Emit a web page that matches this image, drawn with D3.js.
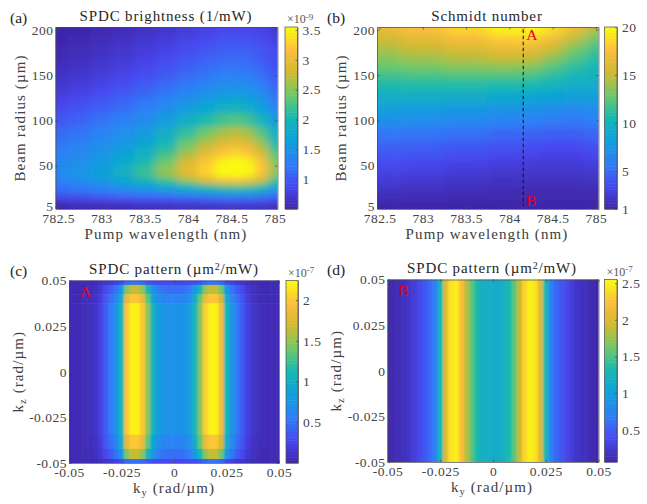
<!DOCTYPE html>
<html>
<head>
<meta charset="utf-8">
<script src="https://cdn.jsdelivr.net/npm/d3@7"></script>
<style>
  body { margin: 0; background: #fff; }
  text { font-family: "Liberation Serif", serif; fill: #3a3a3a; }
  .tick text { font-size: 13.5px; letter-spacing: 0.5px; fill: #444; font-family: "Liberation Serif", serif; }
  .title { font-size: 15px; letter-spacing: 0.85px; fill: #262626; }
  .label { font-size: 15px; letter-spacing: 1.1px; fill: #404040; }
  .panel { font-size: 15.5px; fill: #222; }
  .mult { font-size: 12px; fill: #555; }
  .mark { font-size: 15.5px; fill: #e4002b; }
  .axis path, .axis line { stroke: #4a4a4a; stroke-width: 0.7; }
</style>
</head>
<body>
<div id="chart"></div>
<script>
// parula colormap stops
parulaStops = [0, 0.125, 0.25, 0.375, 0.5, 0.625, 0.75, 0.875, 1]
parulaColors = ["#3e26a8", "#4748f0", "#2f7ef8", "#109fdc", "#14b8b4", "#6cc96a", "#d0ba30", "#fdbd3d", "#f9fb0e"]

// (a) SPDC brightness, x 1e-9 /mW
brightWave = [782.5, 782.75, 783, 783.25, 783.5, 783.75, 784, 784.2, 784.4, 784.55, 784.7, 784.85, 785]
brightRadius = [200, 187, 175, 162, 150, 140, 130, 122, 115, 100, 85, 75, 65, 55, 47, 40, 33, 27, 20, 12, 5]
brightValues = [
  [0.50, 0.52, 0.56, 0.60, 0.65, 0.70, 0.76, 0.82, 0.86, 0.87, 0.87, 0.82, 0.75],
  [0.52, 0.56, 0.60, 0.65, 0.71, 0.77, 0.84, 0.91, 0.95, 0.97, 0.96, 0.90, 0.81],
  [0.55, 0.60, 0.65, 0.70, 0.77, 0.85, 0.93, 1.00, 1.05, 1.07, 1.05, 0.98, 0.88],
  [0.60, 0.65, 0.70, 0.77, 0.84, 0.93, 1.02, 1.10, 1.16, 1.18, 1.16, 1.06, 0.94],
  [0.65, 0.70, 0.76, 0.84, 0.92, 1.02, 1.12, 1.20, 1.28, 1.30, 1.27, 1.15, 1.00],
  [0.70, 0.76, 0.83, 0.92, 1.01, 1.12, 1.23, 1.33, 1.41, 1.45, 1.41, 1.27, 1.08],
  [0.75, 0.82, 0.90, 1.00, 1.10, 1.22, 1.35, 1.47, 1.55, 1.60, 1.55, 1.40, 1.15],
  [0.82, 0.89, 0.98, 1.08, 1.20, 1.33, 1.48, 1.62, 1.72, 1.78, 1.70, 1.53, 1.25],
  [0.88, 0.95, 1.05, 1.15, 1.28, 1.42, 1.60, 1.75, 1.88, 1.95, 1.85, 1.65, 1.35],
  [1.00, 1.08, 1.18, 1.30, 1.42, 1.62, 1.85, 2.05, 2.22, 2.30, 2.20, 1.95, 1.60],
  [1.12, 1.20, 1.32, 1.45, 1.60, 1.85, 2.15, 2.42, 2.62, 2.72, 2.60, 2.30, 1.85],
  [1.20, 1.30, 1.42, 1.55, 1.75, 2.00, 2.38, 2.68, 2.90, 3.00, 2.90, 2.55, 2.05],
  [1.28, 1.38, 1.50, 1.68, 1.88, 2.18, 2.58, 2.92, 3.18, 3.30, 3.18, 2.82, 2.25],
  [1.35, 1.45, 1.58, 1.78, 2.02, 2.38, 2.82, 3.20, 3.45, 3.55, 3.45, 3.10, 2.45],
  [1.40, 1.50, 1.65, 1.85, 2.15, 2.55, 2.95, 3.30, 3.55, 3.55, 3.55, 3.20, 2.55],
  [1.40, 1.52, 1.68, 1.88, 2.18, 2.55, 2.92, 3.25, 3.50, 3.55, 3.45, 3.12, 2.50],
  [1.30, 1.40, 1.55, 1.72, 1.95, 2.20, 2.55, 2.85, 3.10, 3.15, 3.05, 2.75, 2.15],
  [1.20, 1.28, 1.38, 1.52, 1.65, 1.80, 1.98, 2.15, 2.30, 2.35, 2.30, 2.10, 1.80],
  [1.05, 1.10, 1.18, 1.25, 1.32, 1.40, 1.50, 1.58, 1.65, 1.68, 1.65, 1.55, 1.35],
  [0.75, 0.78, 0.82, 0.86, 0.90, 0.93, 0.97, 1.00, 1.03, 1.04, 1.02, 0.98, 0.90],
  [0.52, 0.54, 0.55, 0.56, 0.58, 0.60, 0.62, 0.64, 0.65, 0.65, 0.64, 0.62, 0.60]
]

// (b) Schmidt number
schmidtWave = [782.5, 783, 783.5, 784, 784.25, 784.5, 784.75, 785]
schmidtRadius = [200, 190, 180, 170, 160, 150, 140, 125, 110, 100, 85, 70, 60, 50, 40, 30, 22, 15, 5]
schmidtValues = [
  [16.5, 17.5, 18.5, 19.6, 20, 18.8, 16.8, 14.5],
  [15.3, 16.2, 17.2, 18.2, 18.3, 17, 14.8, 12.8],
  [14.5, 15.2, 16, 16.8, 16.8, 15.3, 13.4, 11.8],
  [13.6, 14.2, 14.8, 15.3, 15.2, 13.8, 12.3, 11],
  [12.8, 13.2, 13.6, 13.8, 13.6, 12.4, 11.3, 10.4],
  [11.8, 12, 12.2, 12.3, 12.1, 11.2, 10.4, 9.9],
  [10.8, 10.9, 10.9, 10.8, 10.6, 10, 9.5, 9.2],
  [9.4, 9.3, 9.2, 8.9, 8.7, 8.3, 8, 8],
  [8, 7.8, 7.5, 7.2, 7, 6.7, 6.5, 6.8],
  [7, 6.8, 6.5, 6.1, 5.9, 5.6, 5.5, 5.9],
  [5.5, 5.4, 5.2, 4.8, 4.6, 4.4, 4.4, 4.8],
  [4.5, 4.4, 4.1, 3.8, 3.6, 3.4, 3.4, 3.8],
  [3.9, 3.8, 3.5, 3.2, 3, 2.9, 2.9, 3.2],
  [3.4, 3.2, 2.9, 2.6, 2.5, 2.4, 2.4, 2.7],
  [2.8, 2.6, 2.4, 2.1, 2, 2, 2, 2.2],
  [2.3, 2.1, 1.9, 1.7, 1.6, 1.6, 1.6, 1.7],
  [1.9, 1.7, 1.6, 1.45, 1.4, 1.4, 1.4, 1.45],
  [1.5, 1.4, 1.3, 1.2, 1.2, 1.2, 1.2, 1.2],
  [1.1, 1.05, 1, 1, 1, 1, 1, 1]
]
pointWave = [784.16, 784.16]
pointRadius = [200, 5]
pointNames = ["A", "B"]

// (c), (d) SPDC pattern, x 1e-7 um^2/mW
patternKy = [-0.05, -0.0475, -0.045, -0.0425, -0.04, -0.0375, -0.035, -0.0325, -0.03, -0.0275, -0.025, -0.0225, -0.02, -0.0175, -0.015, -0.0125, -0.01, -0.0075, -0.005, -0.0025, 0, 0.0025, 0.005, 0.0075, 0.01, 0.0125, 0.015, 0.0175, 0.02, 0.0225, 0.025, 0.0275, 0.03, 0.0325, 0.035, 0.0375, 0.04, 0.0425, 0.045, 0.0475, 0.05]
rowC_mid = [.05, .05, .05, .06, .08, .12, .22, .38, .55, .75, 1.10, 2.00, 2.20, 2.20, 2.00, 1.50, 1.05, .82, .75, .72, .72, .72, .75, .82, 1.10, 1.50, 2.05, 2.20, 2.20, 1.90, 1.10, .75, .55, .38, .22, .12, .08, .06, .05, .05, .05]
rowC_warm = [.05, .05, .05, .06, .07, .11, .20, .34, .48, .65, .98, 1.80, 2.00, 2.00, 1.82, 1.35, .92, .70, .63, .60, .60, .60, .63, .70, .98, 1.38, 1.85, 2.00, 2.00, 1.72, .98, .65, .48, .34, .20, .11, .07, .06, .05, .05, .05]
rowC_dim = [.05, .05, .05, .05, .06, .09, .16, .27, .38, .52, .80, 1.45, 1.65, 1.65, 1.48, 1.10, .75, .56, .50, .47, .47, .47, .50, .56, .80, 1.12, 1.50, 1.65, 1.65, 1.40, .80, .52, .38, .27, .16, .09, .06, .05, .05, .05, .05]
rowC_rim = [.03, .03, .03, .03, .04, .05, .08, .12, .16, .22, .30, .44, .50, .50, .44, .36, .30, .28, .27, .27, .27, .27, .27, .28, .30, .36, .44, .50, .50, .44, .30, .22, .16, .12, .08, .05, .04, .03, .03, .03, .03]
patternCKzEdges = [0.05, 0.0476, 0.0425, 0.0375, -0.0345, -0.0423, -0.0478, -0.05]
patternCRows = [rowC_rim, rowC_dim, rowC_warm, rowC_mid, rowC_warm, rowC_dim, rowC_rim]
patternDRows = [[.08, .10, .12, .15, .20, .26, .35, .45, .55, .70, 1.30, 2.00, 2.42, 2.50, 2.25, 1.85, 1.55, 1.32, 1.20, 1.16, 1.15, 1.16, 1.20, 1.32, 1.55, 1.90, 2.35, 2.50, 2.42, 2.00, 1.30, .72, .55, .45, .35, .26, .20, .15, .12, .10, .08]]
patternDKzEdges = [0.05, -0.05]

// ticks
waveTicks = [782.5, 783, 783.5, 784, 784.5, 785]
waveTickLabels = ["782.5", "783", "783.5", "784", "784.5", "785"]
radiusTicks = [5, 50, 100, 150, 200]
kTicks = [-0.05, -0.025, 0, 0.025, 0.05]
kTickLabels = ["-0.05", "-0.025", "0", "0.025", "0.05"]
cbTicksA = [1, 1.5, 2, 2.5, 3, 3.5]
cbLabelsA = ["1", "1.5", "2", "2.5", "3", "3.5"]
cbTicksB = [1, 5, 10, 15, 20]
cbLabelsB = ["1", "5", "10", "15", "20"]
cbTicksC = [0.5, 1, 1.5, 2]
cbLabelsC = ["0.5", "1", "1.5", "2"]
cbTicksD = [0.5, 1, 1.5, 2, 2.5]
cbLabelsD = ["0.5", "1", "1.5", "2", "2.5"]

var svg = d3.select("#chart").append("svg").attr("width", 647).attr("height", 504)
var defs = svg.append("defs")
var parula = d3.scaleLinear().domain(parulaStops).range(parulaColors).interpolate(d3.interpolateRgb).clamp(true)

function edgesFromCenters(c) {
    var e = [c[0]]
    for (var i = 1; i < c.length; i++) e.push((c[i - 1] + c[i]) / 2)
    e.push(c[c.length - 1])
    return e
}

function cellEdge(edges, i, scale, over) {
    // outermost cells run past the frame so the blur has no pale rim
    var p = scale(edges[i])
    if (i == 0) return p - Math.sign(scale(edges[edges.length - 1]) - p) * over
    if (i == edges.length - 1) return p + Math.sign(p - scale(edges[0])) * over
    return p
}

function drawPanel(p) {
    var x = d3.scaleLinear().domain(p.xDomain).range([p.left, p.right])
    var y = d3.scaleLinear().domain(p.yDomain).range([p.bottom, p.top])
    var norm = d3.scaleLinear().domain(p.cbDomain).range([0, 1])
    var over = 20

    defs.append("clipPath").attr("id", "clip" + p.id).append("rect")
        .attr("x", p.left).attr("y", p.top)
        .attr("width", p.right - p.left).attr("height", p.bottom - p.top)
    defs.append("filter").attr("id", "blur" + p.id)
        .attr("filterUnits", "userSpaceOnUse")
        .attr("x", p.left - 30).attr("y", p.top - 30)
        .attr("width", p.right - p.left + 60).attr("height", p.bottom - p.top + 60)
        .append("feGaussianBlur").attr("stdDeviation", p.blur)

    var heat = svg.append("g").attr("clip-path", "url(#clip" + p.id + ")")
        .append("g").attr("filter", "url(#blur" + p.id + ")")
    p.rows.forEach(function (row, r) {
        row.forEach(function (v, c) {
            var x0 = cellEdge(p.xEdges, c, x, over), x1 = cellEdge(p.xEdges, c + 1, x, over)
            var y0 = cellEdge(p.yEdges, r, y, over), y1 = cellEdge(p.yEdges, r + 1, y, over)
            heat.append("rect")
                .attr("x", x0).attr("y", Math.min(y0, y1))
                .attr("width", x1 - x0 + 0.5).attr("height", Math.abs(y1 - y0) + 0.5)
                .attr("fill", parula(norm(v)))
        })
    })

    // box with inward ticks on all four sides
    svg.append("g").attr("class", "axis").attr("transform", "translate(0," + p.bottom + ")")
        .call(d3.axisBottom(x).tickValues(p.xTicks).tickSizeInner(-2.5).tickSizeOuter(0).tickPadding(4)
            .tickFormat(function (d, i) { return p.xLabels[i] }))
    svg.append("g").attr("class", "axis").attr("transform", "translate(0," + p.top + ")")
        .call(d3.axisTop(x).tickValues(p.xTicks).tickSizeInner(-2.5).tickSizeOuter(0).tickFormat(""))
    svg.append("g").attr("class", "axis").attr("transform", "translate(" + p.left + ",0)")
        .call(d3.axisLeft(y).tickValues(p.yTicks).tickSizeInner(-2.5).tickSizeOuter(0).tickPadding(2)
            .tickFormat(function (d, i) { return p.yLabels[i] }))
    svg.append("g").attr("class", "axis").attr("transform", "translate(" + p.right + ",0)")
        .call(d3.axisRight(y).tickValues(p.yTicks).tickSizeInner(-2.5).tickSizeOuter(0).tickFormat(""))

    // colorbar
    var cbY = d3.scaleLinear().domain(p.cbDomain).range([p.bottom, p.top])
    var levels = d3.range(64)
    var cbStep = (p.cbDomain[1] - p.cbDomain[0]) / 64
    svg.append("g").selectAll("rect").data(levels).enter().append("rect")
        .attr("x", p.cbLeft).attr("width", p.cbRight - p.cbLeft)
        .attr("y", function (d) { return cbY(p.cbDomain[0] + (d + 1) * cbStep) })
        .attr("height", function (d) { return cbY(p.cbDomain[0] + d * cbStep) - cbY(p.cbDomain[0] + (d + 1) * cbStep) + 0.5 })
        .attr("fill", function (d) { return parula((d + 0.5) / 64) })
    svg.append("rect").attr("x", p.cbLeft).attr("y", p.top)
        .attr("width", p.cbRight - p.cbLeft).attr("height", p.bottom - p.top)
        .attr("fill", "none").attr("stroke", "#4a4a4a").attr("stroke-width", 0.7)
    svg.append("g").attr("class", "axis").attr("transform", "translate(" + p.cbRight + ",0)")
        .call(d3.axisRight(cbY).tickValues(p.cbTicks).tickSizeInner(-2).tickSizeOuter(0).tickPadding(5)
            .tickFormat(function (d, i) { return p.cbLabels[i] }))

    // texts
    var title = svg.append("text").attr("class", "title").attr("x", p.titleX).attr("y", p.top - 6.5)
        .attr("text-anchor", "middle")
    p.title(title)
    var xl = svg.append("text").attr("class", "label").attr("x", p.titleX).attr("y", p.bottom + 30)
        .attr("text-anchor", "middle")
    p.xLabel(xl)
    var yl = svg.append("text").attr("class", "label")
        .attr("transform", "translate(" + p.yLabelX + "," + (p.top + p.bottom) / 2 + ") rotate(-90)")
        .attr("text-anchor", "middle")
    p.yLabel(yl)
    svg.append("text").attr("class", "panel").attr("x", p.panelX).attr("y", p.top - 4.5).text(p.panel)
    if (p.exp) {
        var m = svg.append("text").attr("class", "mult").attr("x", p.cbLeft + 2).attr("y", p.top - 4)
        m.append("tspan").text("×10")
        m.append("tspan").attr("dy", -3.5).attr("font-size", 9).text(p.exp)
    }
    if (p.tag) {
        svg.append("text").attr("class", "mark").attr("x", p.left + 11).attr("y", p.top + 16).text(p.tag)
    }
    return { x: x, y: y }
}

function plain(s) { return function (t) { t.text(s) } }
function kLabel(sub) {
    return function (t) {
        t.append("tspan").text("k")
        t.append("tspan").attr("dy", 3).attr("font-size", 10.5).text(sub)
        t.append("tspan").attr("dy", -3).text(" (rad/µm)")
    }
}
function patternTitle(t) {
    t.append("tspan").text("SPDC pattern (µm")
    t.append("tspan").attr("dy", -4).attr("font-size", 10).text("2")
    t.append("tspan").attr("dy", 4).text("/mW)")
}

drawPanel({
    id: "a", left: 55.5, right: 277.5, top: 27, bottom: 209,
    xDomain: [782.47, 785.03], yDomain: [2, 203.5], cbDomain: [0.5, 3.55],
    xEdges: edgesFromCenters(brightWave), yEdges: edgesFromCenters(brightRadius), rows: brightValues, blur: "5 3",
    xTicks: waveTicks, xLabels: waveTickLabels, yTicks: radiusTicks, yLabels: radiusTicks.map(String),
    cbLeft: 285, cbRight: 297.5, cbTicks: cbTicksA, cbLabels: cbLabelsA, exp: "-9",
    title: plain("SPDC brightness (1/mW)"), xLabel: plain("Pump wavelength (nm)"), yLabel: plain("Beam radius (µm)"),
    titleX: 166, yLabelX: 25, panelX: 10, panel: "(a)"
})
var pb = drawPanel({
    id: "b", left: 377, right: 598.5, top: 27, bottom: 209,
    xDomain: [782.47, 785.03], yDomain: [2, 203], cbDomain: [1, 20],
    xEdges: edgesFromCenters(schmidtWave), yEdges: edgesFromCenters(schmidtRadius), rows: schmidtValues, blur: "7 3.5",
    xTicks: waveTicks, xLabels: waveTickLabels, yTicks: radiusTicks, yLabels: radiusTicks.map(String),
    cbLeft: 604.5, cbRight: 617, cbTicks: cbTicksB, cbLabels: cbLabelsB,
    title: plain("Schmidt number"), xLabel: plain("Pump wavelength (nm)"), yLabel: plain("Beam radius (µm)"),
    titleX: 487, yLabelX: 346, panelX: 327, panel: "(b)"
})
drawPanel({
    id: "c", left: 69, right: 279, top: 280.5, bottom: 463,
    xDomain: [-0.05, 0.05], yDomain: [-0.05, 0.05], cbDomain: [0, 2.24],
    xEdges: edgesFromCenters(patternKy), yEdges: patternCKzEdges, rows: patternCRows, blur: "1.2 0.7",
    xTicks: kTicks, xLabels: kTickLabels, yTicks: kTicks, yLabels: kTickLabels,
    cbLeft: 286, cbRight: 298, cbTicks: cbTicksC, cbLabels: cbLabelsC, exp: "-7",
    title: patternTitle, xLabel: kLabel("y"), yLabel: kLabel("z"),
    titleX: 174, yLabelX: 23, panelX: 10, panel: "(c)", tag: "A"
})
drawPanel({
    id: "d", left: 387.5, right: 598.5, top: 279.5, bottom: 462,
    xDomain: [-0.05, 0.05], yDomain: [-0.05, 0.05], cbDomain: [0.06, 2.55],
    xEdges: edgesFromCenters(patternKy), yEdges: patternDKzEdges, rows: patternDRows, blur: "1.2 0.7",
    xTicks: kTicks, xLabels: kTickLabels, yTicks: kTicks, yLabels: kTickLabels,
    cbLeft: 604.5, cbRight: 617, cbTicks: cbTicksD, cbLabels: cbLabelsD, exp: "-7",
    title: patternTitle, xLabel: kLabel("y"), yLabel: kLabel("z"),
    titleX: 492, yLabelX: 341, panelX: 327, panel: "(d)", tag: "B"
})

// dashed line and the two marked points on (b)
svg.append("line")
    .attr("x1", pb.x(pointWave[0])).attr("x2", pb.x(pointWave[1]))
    .attr("y1", pb.y(pointRadius[0])).attr("y2", pb.y(pointRadius[1]))
    .attr("stroke", "#111").attr("stroke-width", 1).attr("stroke-dasharray", "3.5,2.5")
svg.selectAll(".cross").data(pointWave).enter().append("path")
    .attr("class", "cross")
    .attr("d", d3.symbol().type(d3.symbolX).size(16))
    .attr("transform", function (d, i) { return "translate(" + pb.x(d) + "," + pb.y(pointRadius[i]) + ")" })
    .attr("fill", "#e4002b").attr("stroke", "#e4002b").attr("stroke-width", 0.4)
svg.selectAll(".pointName").data(pointNames).enter().append("text")
    .attr("class", "mark")
    .attr("x", function (d, i) { return pb.x(pointWave[i]) + 3 })
    .attr("y", function (d, i) { return pb.y(pointRadius[i]) + (i == 0 ? 10 : 0) })
    .text(function (d) { return d })
</script>
</body>
</html>
